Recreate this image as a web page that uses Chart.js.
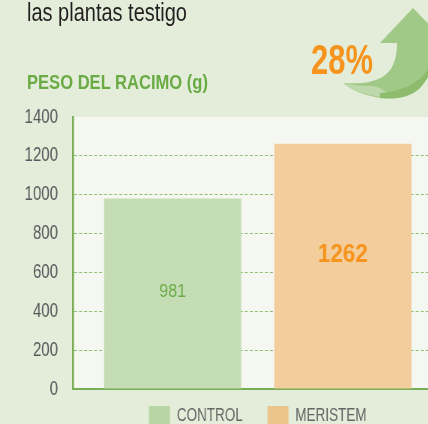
<!DOCTYPE html>
<html>
<head>
<meta charset="utf-8">
<script src="https://cdn.jsdelivr.net/npm/chart.js@4/dist/chart.umd.min.js"></script>
<style>
  html, body { margin: 0; padding: 0; background: #e4edda; }
  #wrap { position: relative; width: 428px; height: 424px; overflow: hidden; background: #e4edda; }
  /* the source uses a condensed face, so the whole canvas is squeezed horizontally */
  #chart { position: absolute; left: 0; top: 0; transform: scaleX(0.75); transform-origin: 0 0; }
  #deco { position: absolute; left: 0; top: 0; font-family: 'Liberation Sans', Arial, sans-serif; }
</style>
</head>
<body>
<div id="wrap">
  <canvas id="chart" width="590" height="437"></canvas>
  <svg id="deco" width="428" height="424">
    <!-- curved arrow -->
    <path d="M343 83 C 362 98, 392 104, 416 90 C 430 80, 438 62, 438 43 L 397 43 C 397 70, 386 86, 343 83 Z" fill="#a0c886"/>
    <path d="M343 83 C 356 93, 372 97, 390 97 C 386 91, 380 87, 372 86 C 362 86, 352 85, 343 83 Z" fill="#bdd8aa"/>
    <path d="M380 98 C 396 100, 410 97, 419 89 C 428 80, 431 70, 433 60 C 425 80, 406 91, 380 93 Z" fill="#8cbc6c"/>
    <path d="M380 43 L 413 8 L 447 43 Z" fill="#a0c886"/>
    <text x="27" y="20.5" font-size="26" fill="#231f20" textLength="160" lengthAdjust="spacingAndGlyphs">las plantas testigo</text>
    <text x="27" y="88.5" font-size="21" font-weight="bold" fill="#6aab46" textLength="181" lengthAdjust="spacingAndGlyphs">PESO DEL RACIMO (g)</text>
    <text x="311" y="74" font-size="43" font-weight="bold" fill="#f7941d" textLength="62" lengthAdjust="spacingAndGlyphs">28%</text>
  </svg>
</div>
<script>
  const FONT = "'Liberation Sans', Arial, sans-serif";
  const SQUEEZE = 0.75;

  // data
  const categories = ["CONTROL", "MERISTEM"];
  const pesoRacimo = [981, 1262];
  const yTicks = [0, 200, 400, 600, 800, 1000, 1200, 1400];

  const barColors = ["#c5ddb5", "#f3cd9b"];
  const legendColors = ["#b8d6a3", "#ecc58d"];
  const labelColors = ["#6aab46", "#f7941d"];
  const labelWeights = ["normal", "bold"];
  const labelSizes = [18, 25];
  const labelFrac = [0.495, 0.453];

  // light panel behind the plot
  const plotBackground = {
    id: "plotBackground",
    beforeDraw(chart) {
      const { ctx, chartArea } = chart;
      ctx.save();
      ctx.fillStyle = "#f5f8f1";
      ctx.fillRect(chartArea.left, chartArea.top, chartArea.right - chartArea.left, chartArea.bottom - chartArea.top);
      ctx.restore();
    },
  };

  // value written inside each bar
  const barValues = {
    id: "barValues",
    afterDraw(chart) {
      const { ctx } = chart;
      chart.data.datasets.forEach((ds, i) => {
        const meta = chart.getDatasetMeta(i);
        meta.data.forEach((bar, j) => {
          const y = bar.y + (bar.base - bar.y) * labelFrac[i];
          ctx.save();
          ctx.translate(bar.x, y);
          ctx.scale(0.9 / SQUEEZE, 1);
          ctx.font = labelWeights[i] + " " + labelSizes[i] + "px " + FONT;
          ctx.fillStyle = labelColors[i];
          ctx.textAlign = "center";
          ctx.textBaseline = "middle";
          ctx.fillText(String(ds.data[j]), 0, 0);
          ctx.restore();
        });
      });
    },
  };

  new Chart(document.getElementById("chart"), {
    type: "bar",
    data: {
      labels: [""],
      datasets: categories.map((c, i) => ({
        label: c,
        data: [pesoRacimo[i]],
        backgroundColor: barColors[i],
        borderWidth: 0,
      })),
    },
    options: {
      responsive: false,
      animation: false,
      devicePixelRatio: 1,
      layout: { padding: { top: 117, left: 0, right: 0, bottom: 0 } },
      datasets: { bar: { categoryPercentage: 0.921, barPercentage: 0.806 } },
      plugins: {
        tooltip: { enabled: false },
        legend: {
          position: "bottom",
          fullSize: false,
          // empty title with negative padding pulls the items up,
          // so the wide gap between items doesn't push the legend down
          title: { display: true, text: "", font: { size: 10 }, padding: { top: -28, bottom: 0 } },
          labels: {
            boxWidth: 28,
            boxHeight: 21,
            padding: 33,
            color: "#58595b",
            font: { family: FONT, size: 18 },
            generateLabels: () =>
              categories.map((c, i) => ({
                text: c,
                fillStyle: legendColors[i],
                strokeStyle: legendColors[i],
                lineWidth: 0,
                datasetIndex: i,
              })),
          },
        },
      },
      scales: {
        x: {
          z: 1,
          grid: { display: false, drawTicks: false },
          ticks: { display: false },
          border: { color: "#7aad58", width: 2 },
        },
        y: {
          z: 1,
          min: 0,
          max: 1400,
          afterBuildTicks: (scale) => {
            scale.ticks = yTicks.map((v) => ({ value: v }));
          },
          afterFit: (scale) => {
            scale.width = 73 / SQUEEZE;
          },
          ticks: {
            padding: 20,
            color: "#58595b",
            font: { family: FONT, size: 20 },
            callback: (v) => String(v),
          },
          grid: {
            drawTicks: false,
            lineWidth: 1,
            color: (ctx) =>
              ctx.tick && (ctx.tick.value === 0 || ctx.tick.value === 1400) ? "rgba(0,0,0,0)" : "#8fc06f",
          },
          border: { color: "#7aad58", width: 2 / SQUEEZE, dash: [4, 2.7] },
        },
      },
    },
    plugins: [plotBackground, barValues],
  });
</script>
</body>
</html>
